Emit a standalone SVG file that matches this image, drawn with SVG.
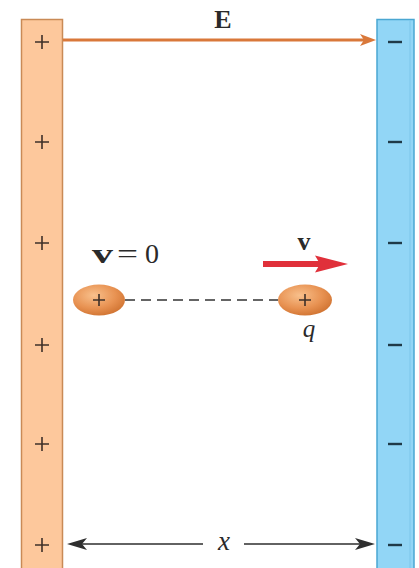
<svg xmlns="http://www.w3.org/2000/svg" width="419" height="568" viewBox="0 0 419 568">
<defs>
<style>
.pm{stroke:#3e3028;stroke-width:1.6}
.mn{stroke:#1f3a48;stroke-width:2.4}
.serif{font-family:"Liberation Serif","DejaVu Serif",serif;fill:#2a2a2a}
</style>
<radialGradient id="ball" cx="0.4" cy="0.35" r="0.7">
<stop offset="0" stop-color="#f8c08c"/>
<stop offset="0.6" stop-color="#e89252"/>
<stop offset="1" stop-color="#cf7230"/>
</radialGradient>
</defs>
<rect width="419" height="568" fill="#ffffff"/>

<g id="positive-plate">
<rect x="21.5" y="19.5" width="41" height="560" fill="#fdc89c" stroke="#c98a56" stroke-width="1.5"/>
<g class="pm">
<path d="M35,42 H49 M42,35 V49"/>
<path d="M35,142 H49 M42,135 V149"/>
<path d="M35,243 H49 M42,236 V250"/>
<path d="M35,345 H49 M42,338 V352"/>
<path d="M35,444 H49 M42,437 V451"/>
<path d="M35,545 H49 M42,538 V552"/>
</g>
</g>

<g id="negative-plate">
<rect x="377" y="19.5" width="37" height="560" fill="#92d6f6" stroke="#4aa7d2" stroke-width="1.5"/>
<line x1="410" y1="20" x2="410" y2="568" stroke="#7cc6ea" stroke-width="1"/>
<g class="mn">
<path d="M388,42 H402"/>
<path d="M388,142 H402"/>
<path d="M388,243 H402"/>
<path d="M388,345 H402"/>
<path d="M388,444 H402"/>
<path d="M388,545 H402"/>
</g>
</g>

<g id="connectors">
<line x1="63" y1="40" x2="364" y2="40" stroke="#d9783a" stroke-width="3"/>
<path d="M360,34 L376,40 L360,46 L364,40 Z" fill="#d9783a"/>
<line x1="125" y1="300" x2="278" y2="300" stroke="#333" stroke-width="1.3" stroke-dasharray="10,6"/>
<line x1="263" y1="264" x2="320" y2="264" stroke="#e0303a" stroke-width="6"/>
<path d="M315,255.5 L348,264 L315,272.5 L320,264 Z" fill="#e0303a"/>
<line x1="203" y1="544" x2="80" y2="544" stroke="#2e2e2e" stroke-width="1.3"/>
<path d="M87,538 L67,544 L87,550 L82,544 Z" fill="#2e2e2e"/>
<line x1="244" y1="544" x2="362" y2="544" stroke="#2e2e2e" stroke-width="1.3"/>
<path d="M355,538 L375,544 L355,550 L360,544 Z" fill="#2e2e2e"/>
</g>

<g id="charge-start">
<ellipse cx="99" cy="300" rx="26" ry="15.5" fill="url(#ball)"/>
<path d="M93,300 H105 M99,294 V306" class="pm"/>
</g>

<g id="charge-q">
<ellipse cx="305" cy="300" rx="27" ry="15.5" fill="url(#ball)"/>
<path d="M299,300 H311 M305,294 V306" class="pm"/>
</g>

<g id="labels">
<text x="223" y="28" class="serif" font-size="26" font-weight="bold" text-anchor="middle">E</text>
<text x="92" y="263" class="serif" font-size="27" font-weight="bold" textLength="21" lengthAdjust="spacingAndGlyphs">v</text>
<text x="117" y="263" class="serif" font-size="28" textLength="21" lengthAdjust="spacingAndGlyphs">=</text>
<text x="145" y="263" class="serif" font-size="28">0</text>
<text x="304" y="250" class="serif" font-size="26" font-weight="bold" text-anchor="middle">v</text>
<text x="309" y="337" class="serif" font-size="25" font-style="italic" text-anchor="middle">q</text>
<text x="224" y="550" class="serif" font-size="27" font-style="italic" text-anchor="middle">x</text>
</g>
</svg>
